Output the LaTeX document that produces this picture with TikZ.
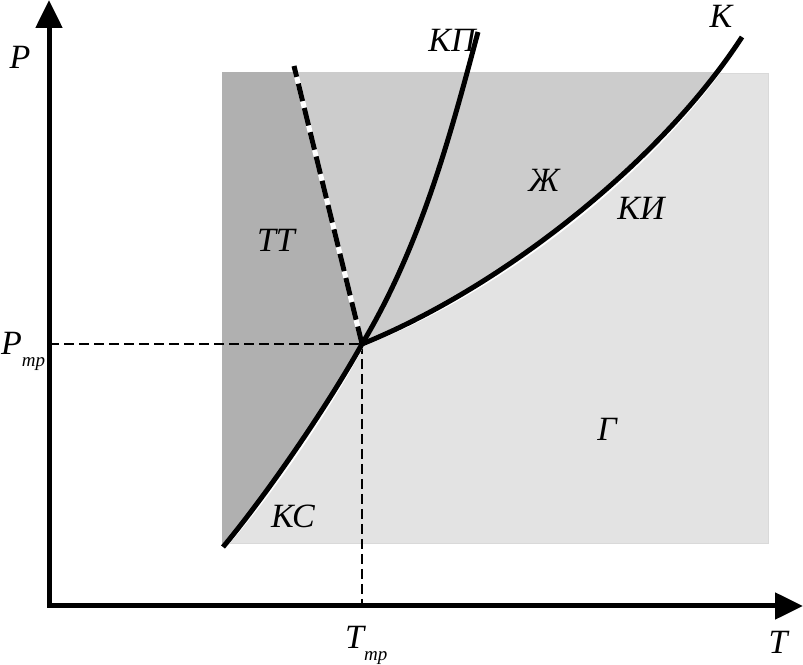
\documentclass[tikz,border=0pt]{standalone}
\usepackage{fontspec}
\setmainfont{Liberation Serif}
\usepackage{xcolor}
\usepackage{tikz}
\usetikzlibrary{arrows.meta}

\definecolor{gasfill}{gray}{0.89}
\definecolor{liqfill}{gray}{0.80}
\definecolor{solfill}{gray}{0.69}
\newcommand{\trsub}{\raisebox{-12pt}{\fontsize{19}{19}\selectfont тр}}

\begin{document}
\begin{tikzpicture}[x=1pt, y=1pt,
  axis/.style={line width=5pt,
               {Triangle[length=28pt,width=26pt]}-{Triangle[length=28pt,width=26pt]}},
  curve/.style={line width=5pt, black},
  under/.style={line width=5pt, white, shift={(1.8,-2)}},
  guide/.style={line width=2.4pt, dash pattern=on 10pt off 5pt},
  melt/.style={line width=5pt, dash pattern=on 18pt off 7pt},
  lbl/.style={font=\fontsize{34}{40}\selectfont\itshape, inner sep=0pt}
]
\useasboundingbox (0,0) rectangle (803,664);

\coordinate (O)      at (49,58);
\coordinate (ytop)   at (49,664);
\coordinate (xend)   at (803,58);
\coordinate (tp)     at (362,320);
\coordinate (melttop) at (294,598);
\coordinate (meltout) at (289,620);
\coordinate (boilend) at (742,627);
\coordinate (subend)  at (223,117);
\coordinate (kpend)   at (478,632);

% phase regions
\fill[gasfill, draw=gray!30, line width=0.8pt] (222,121) rectangle (768,591);
\begin{scope}
  \clip (222,121) rectangle (768,591);
  \fill[liqfill] (tp) -- (meltout) -- (742,640) -- (boilend)
    .. controls (660,501) and (501,376) .. (tp) -- cycle;
  \fill[solfill] (tp) -- (meltout) -- (200,620) -- (200,100) -- (subend)
    .. controls (268,171) and (328,259) .. (tp) -- cycle;
\end{scope}

% triple point guides
\draw[guide] (O |- tp) -- (tp);
\draw[guide] (tp) -- (tp |- O);

% phase boundaries
\draw[under] (tp) -- (melttop);
\draw[under] (tp) .. controls (501,376) and (660,501) .. (boilend);
\draw[under] (tp) .. controls (328,259) and (268,171) .. (subend);
\draw[melt] (tp) -- (melttop);
\draw[curve] (tp) .. controls (422,420) and (452,535) .. (kpend);
\draw[curve] (tp) .. controls (501,376) and (660,501) .. (boilend);
\draw[curve] (tp) .. controls (328,259) and (268,171) .. (subend);

\draw[axis] (ytop) -- (O) -- (xend);

% labels
\node[lbl] (plbl) at (20,607) {P};
\node[lbl] (tlbl) at (778,22) {T};
\node[lbl, anchor=base west] (ptr) at (1,309) {P\trsub};
\node[lbl, anchor=base west] (ttr) at (345,16) {T\trsub};
\node[lbl] (kp)  at (452,624) {КП};
\node[lbl] (kr)  at (721,648) {К};
\node[lbl] (liq) at (544,484) {Ж};
\node[lbl] (ki)  at (641,456) {КИ};
\node[lbl] (sol) at (276,424) {ТТ};
\node[lbl] (gas) at (607,235) {Г};
\node[lbl] (ks)  at (293,148) {КС};
\end{tikzpicture}
\end{document}
